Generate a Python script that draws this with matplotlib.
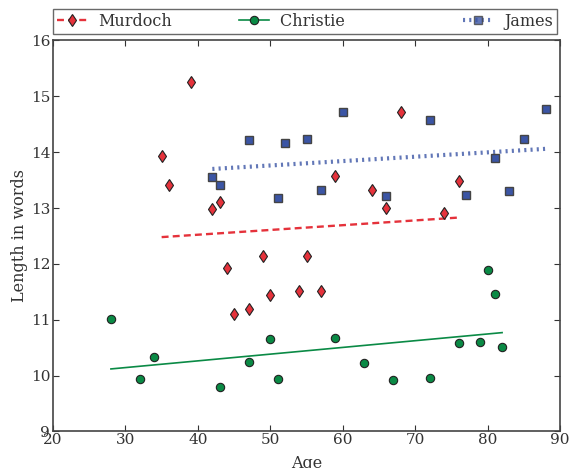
import matplotlib
matplotlib.use("Agg")
import matplotlib.pyplot as plt

plt.rcParams['font.family'] = ['DejaVu Serif']
plt.rcParams['font.size'] = 11
plt.rcParams['text.color'] = '#333333'
plt.rcParams['axes.labelcolor'] = '#333333'
plt.rcParams['xtick.color'] = '#333333'
plt.rcParams['ytick.color'] = '#333333'
plt.rcParams['xtick.direction'] = 'in'
plt.rcParams['ytick.direction'] = 'in'
plt.rcParams['xtick.top'] = True
plt.rcParams['ytick.right'] = True
plt.rcParams['lines.scale_dashes'] = False

# data
murdoch_age = [35, 36, 39, 42, 43, 44, 45, 47, 49, 50, 54, 55, 57, 59, 64, 66, 68, 74, 76]
murdoch_len = [13.94, 13.42, 15.26, 12.99, 13.11, 11.92, 11.11, 11.19, 12.15, 11.44,
               11.51, 12.14, 11.51, 13.57, 13.32, 13.00, 14.72, 12.91, 13.49]
murdoch_fit_x = [35, 76]
murdoch_fit_y = [12.48, 12.83]

christie_age = [28, 32, 34, 43, 47, 50, 51, 59, 63, 67, 72, 76, 79, 80, 81, 82]
christie_len = [11.02, 9.94, 10.34, 9.80, 10.24, 10.65, 9.94, 10.67, 10.23, 9.93,
                9.95, 10.59, 10.61, 11.90, 11.47, 10.51]
christie_fit_x = [28, 82]
christie_fit_y = [10.12, 10.77]

james_age = [42, 43, 47, 51, 52, 55, 57, 60, 66, 72, 77, 81, 83, 85, 88]
james_len = [13.55, 13.41, 14.21, 13.18, 14.16, 14.23, 13.33, 14.72, 13.21, 14.57,
             13.24, 13.89, 13.31, 14.23, 14.77]
james_fit_x = [42, 88]
james_fit_y = [13.70, 14.06]

names = ['Murdoch', 'Christie' + ' ' * 10, 'James']

red = '#e5323b'
green = '#0a8a45'
blue = '#3b55a5'

fig = plt.figure(figsize=(5.71, 4.68), dpi=100)
ax = fig.add_axes([0.0928, 0.078, 0.888, 0.8355])

ax.plot(murdoch_fit_x, murdoch_fit_y, color=red, lw=1.7, dashes=(5, 3))
ax.plot(christie_fit_x, christie_fit_y, color=green, lw=1.2)
ax.plot(james_fit_x, james_fit_y, color=blue, lw=3, dashes=(1.5, 3), alpha=0.8)

ax.plot(murdoch_age, murdoch_len, 'd', color=red, mec='#222222', mew=0.8, ms=6)
ax.plot(christie_age, christie_len, 'o', color=green, mec='#222222', mew=0.8, ms=6)
ax.plot(james_age, james_len, 's', color=blue, mec='#444444', mew=1.0, ms=6)

# legend handles: line + marker
h1, = ax.plot([], [], color=red, lw=1.7, dashes=(5, 3), marker='d',
              mfc=red, mec='#222222', mew=0.8, ms=6)
h2, = ax.plot([], [], color=green, lw=1.2, marker='o',
              mfc=green, mec='#222222', mew=0.8, ms=6)
h3, = ax.plot([], [], color=blue, lw=3, dashes=(1.5, 3), marker='s',
              mfc=blue, mec='#444444', mew=1.0, ms=6, alpha=0.8)

leg = ax.legend([h1, h2, h3], names,
                loc='lower left', bbox_to_anchor=(0, 1.0166, 0.994, 0.06),
                mode='expand', ncol=3, borderaxespad=0, fancybox=False,
                numpoints=1, handlelength=1.9, fontsize=11.5, borderpad=0.25,
                handletextpad=0.7)
leg.get_frame().set_edgecolor('#444444')
leg.get_frame().set_linewidth(1.0)

ax.set_xlim(20, 90)
ax.set_ylim(9, 16)
ax.set_xlabel('Age', fontsize=11.5, labelpad=5.5)
ax.set_ylabel('Length in words', fontsize=11.5, labelpad=2)

for s in ax.spines.values():
    s.set_color('#444444')
    s.set_linewidth(1.2)
ax.tick_params(length=4, width=0.8, labelsize=11)
ax.tick_params(axis='x', pad=1)
ax.tick_params(axis='y', pad=2)

fig.savefig('out.png', dpi=100)
